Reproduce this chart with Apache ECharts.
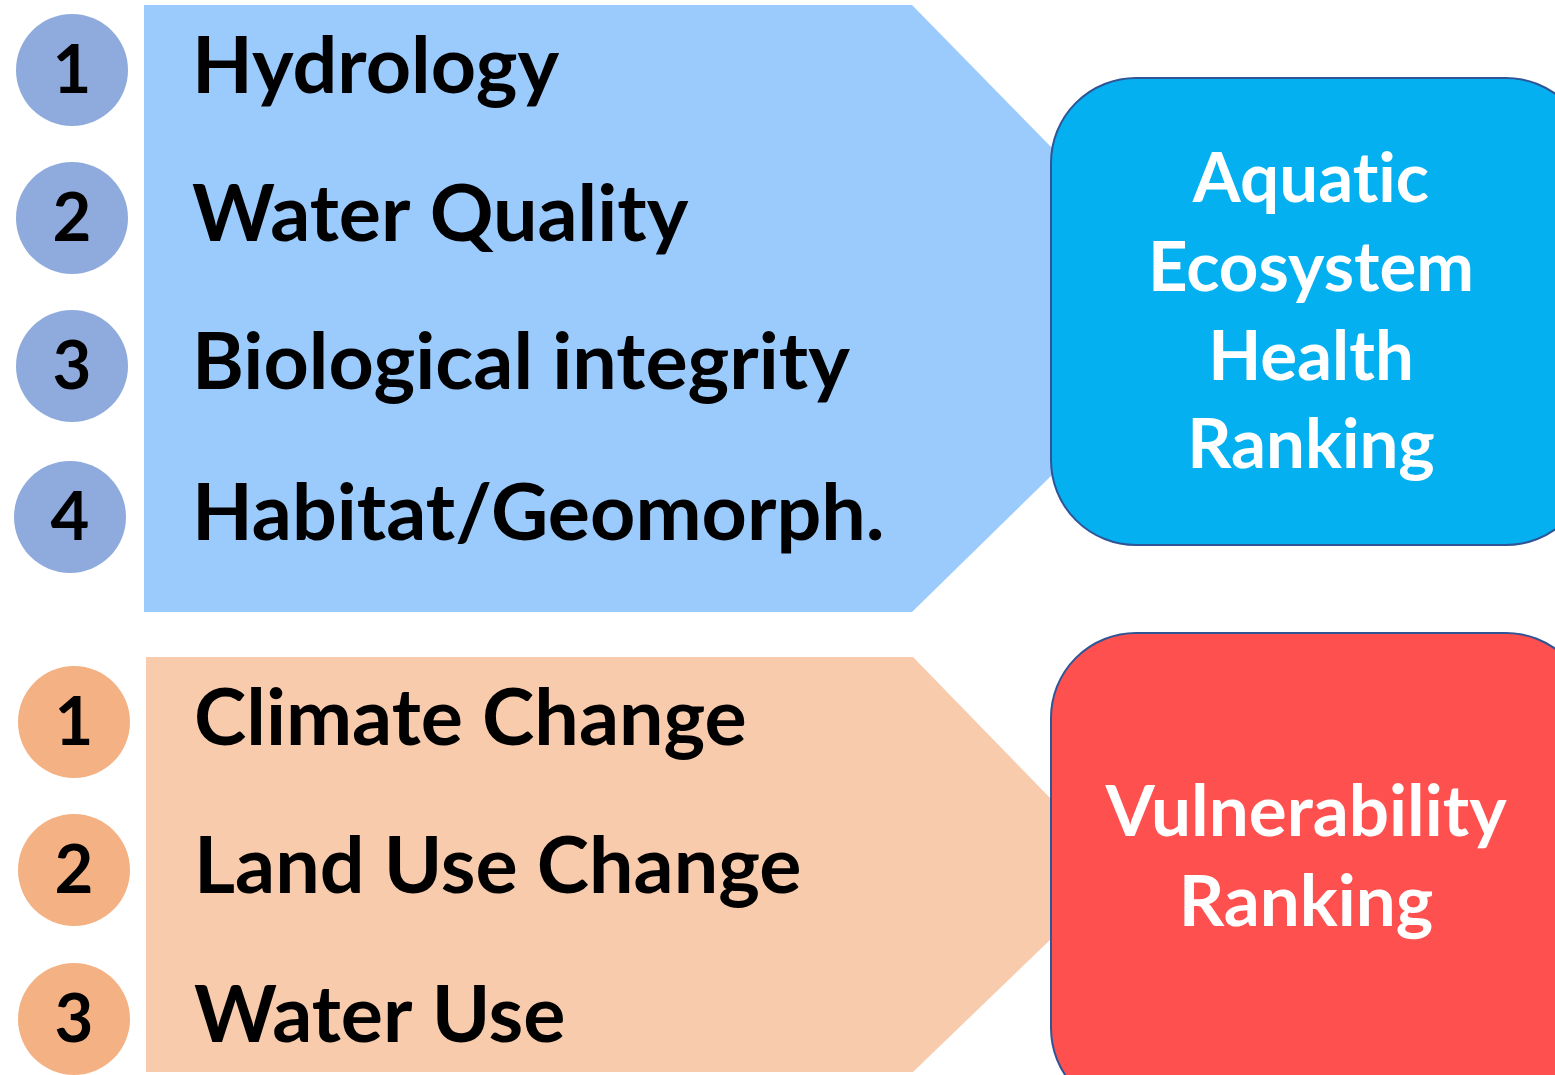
<!DOCTYPE html>
<html><head><meta charset="utf-8">
<script src="https://cdn.jsdelivr.net/npm/echarts@6/dist/echarts.min.js"></script>
<style>html,body{margin:0;padding:0;background:#fff}#c{width:1555px;height:1075px}</style>
</head><body><div id="c"></div>
<script>
// ---- data ----
const aquaticFactors = ['Hydrology', 'Water Quality', 'Biological integrity', 'Habitat/Geomorph.'];
const aquaticRanks = [1, 2, 3, 4];
const vulnerabilityFactors = ['Climate Change', 'Land Use Change', 'Water Use'];
const vulnerabilityRanks = [1, 2, 3];
const aquaticTitle = ['Aquat\u200Cic', 'Ecosystem', 'Health', 'Ranking'];
const vulnerabilityTitle = ['Vulnerability', 'Ranking'];

// ---- layout ----
const FONT = 'Lato';
const aquaticRowY = [68, 216, 364, 515];
const aquaticCircleX = [72, 72, 72, 70];
const vulnRowY = [720, 868, 1017];
const labelSize = 79;

const g = [];
function arrowPoly(x0, y0, x1, y1, tipX, tipTop, tipBot) {
  return { type: 'polygon', shape: { points: [[x0, y0], [x1, y0], [tipX, tipTop], [tipX, tipBot], [x1, y1], [x0, y1]] } };
}
g.push(Object.assign(arrowPoly(144, 5, 912, 612, 1052, 148, 475), { style: { fill: '#9BCBFD' } }));
g.push(Object.assign(arrowPoly(146, 657, 913, 1072, 1052, 800, 938), { style: { fill: '#F8CBAD' } }));

g.push({ type: 'rect', shape: { x: 1051, y: 78, width: 540, height: 467, r: 85 }, style: { fill: '#04B0F0', stroke: '#2F5597', lineWidth: 2 } });
g.push({ type: 'rect', shape: { x: 1051, y: 633, width: 540, height: 480, r: 85 }, style: { fill: '#FF5050', stroke: '#2F5597', lineWidth: 2 } });

function circle(cx, cy, color, num) {
  g.push({ type: 'circle', shape: { cx: cx, cy: cy, r: 56 }, style: { fill: color } });
  g.push({ type: 'text', x: cx, y: cy + 1, style: { text: String(num), font: 'bold 67px ' + FONT, fill: '#000', align: 'center', verticalAlign: 'middle' } });
}
function label(x, y, t) {
  g.push({ type: 'text', x: x, y: y, style: { text: t, font: 'bold ' + labelSize + 'px ' + FONT, fill: '#000', align: 'left', verticalAlign: 'middle' } });
}
aquaticFactors.forEach((t, i) => { circle(aquaticCircleX[i], aquaticRowY[i] + 2, '#8FAADC', aquaticRanks[i]); label(192, aquaticRowY[i], t); });
vulnerabilityFactors.forEach((t, i) => { circle(74, vulnRowY[i] + 2, '#F4B183', vulnerabilityRanks[i]); label(194, vulnRowY[i], t); });

const aquaticTitleY = [180, 269, 358, 446];
aquaticTitle.forEach((t, i) => g.push({ type: 'text', x: 1311, y: aquaticTitleY[i], style: { text: t, font: 'bold 69px ' + FONT, fill: '#fff', align: 'center', verticalAlign: 'middle' } }));
const vulnTitleY = [813, 903];
vulnerabilityTitle.forEach((t, i) => g.push({ type: 'text', x: 1306, y: vulnTitleY[i], style: { text: t, font: 'bold 71px ' + FONT, fill: '#fff', align: 'center', verticalAlign: 'middle' } }));

const chart = echarts.init(document.getElementById('c'), null, { renderer: 'canvas' });
chart.setOption({ backgroundColor: '#fff', animation: false, graphic: { elements: g } });
</script></body></html>
